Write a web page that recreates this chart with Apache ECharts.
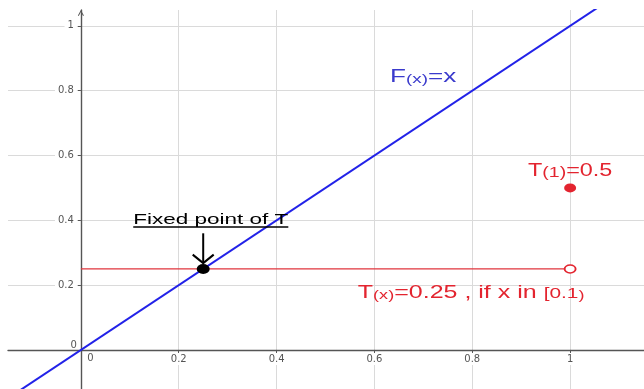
<!DOCTYPE html>
<html>
<head>
<meta charset="utf-8">
<script src="https://cdn.jsdelivr.net/npm/echarts@6/dist/echarts.min.js"></script>
<style>
html,body{margin:0;padding:0;background:#fff;}
#c{width:644px;height:389px;}
</style>
</head>
<body>
<div id="c"></div>
<script>
// ---- data ----
const xTicks = [0, 0.2, 0.4, 0.6, 0.8, 1];
const yTicks = [0, 0.2, 0.4, 0.6, 0.8, 1];
const lineF = [[-0.2, -0.2], [1.2, 1.2]];      // F(x)=x
const lineT = [[0, 0.25], [1, 0.25]];          // T(x)=0.25 on [0,1)
const fixedPoint = [[0.25, 0.25]];
const openEnd = [[1, 0.25]];
const pointT1 = [[1, 0.5]];
const arrowFrom = [0.25, 0.36];
const arrowTo = [0.25, 0.268];
const annoTexts = [
  '{m|F}{s|(x)}{m|=x}',
  '{m|T}{s|(1)}{m|=0.5}',
  '{m|T}{s|(x)}{m|=0.25 , if x in }{t|[0.1}{s|)}',
  '{m|Fixed point of T}'
];
const annoAnchors = [[0.632, 0.843], [0.914, 0.551], [0.566, 0.177], [0.107, 0.401]];

// ---- layout / styles ----
const GRID = {left: 8, top: 10, right: 0, bottom: 0};
const X_MIN = -0.149, X_MAX = 1.151, Y_MIN = -0.1204, Y_MAX = 1.049;
const W = 644, H = 389;
const plotW = W - GRID.left - GRID.right, plotH = H - GRID.top - GRID.bottom;
// place axes through the origin
const yAxisOffset = -((0 - X_MIN) / (X_MAX - X_MIN)) * plotW;
const xAxisOffset = -((0 - Y_MIN) / (Y_MAX - Y_MIN)) * plotH;

const FONT = '"Liberation Sans", Arial, sans-serif';
const BLUE = '#2222e8', BLUE_TXT = '#3a3acc', RED = '#e3242f', RED_LINE = '#e0343c';
const annoStyle = [
  {color: BLUE_TXT, sx: 1.45, m: 18, s: 13, t: 14},
  {color: RED, sx: 1.3, m: 18, s: 15, t: 14},
  {color: RED, sx: 1.39, m: 18, s: 13, t: 15},
  {color: '#000', sx: 1.5, m: 15, s: 12, t: 12, underline: true}
];

function measure(txt, font) {
  const c = document.createElement('canvas').getContext('2d');
  c.font = font;
  return c.measureText(txt).width;
}

const chart = echarts.init(document.getElementById('c'), null, {renderer: 'canvas'});

const labelCommon = {color: '#555', fontFamily: '"DejaVu Sans", sans-serif', fontSize: 10};

const option = {
  animation: false,
  backgroundColor: '#fff',
  grid: Object.assign({containLabel: false, outerBoundsMode: 'none'}, GRID),
  xAxis: {
    type: 'value', min: X_MIN, max: X_MAX, position: 'bottom', offset: xAxisOffset,
    axisLine: {onZero: false, lineStyle: {color: '#555', width: 1.4}},
    axisTick: {show: true, customValues: xTicks, length: 3, lineStyle: {color: '#555'}},
    axisLabel: Object.assign({
      customValues: xTicks, margin: 3,
      formatter: v => v === 0 ? '{z|0}' : '{n|' + v + '}',
      rich: {
        n: Object.assign({backgroundColor: '#fff', padding: [1, 3]}, labelCommon),
        z: Object.assign({padding: [0, 0, 0, 19]}, labelCommon)
      }
    }, labelCommon),
    splitLine: {show: true, lineStyle: {color: '#dadada', width: 1}}
  },
  yAxis: {
    type: 'value', min: Y_MIN, max: Y_MAX, position: 'left', offset: yAxisOffset,
    axisLine: {
      onZero: false, lineStyle: {color: '#555', width: 1.4},
      symbol: ['none', 'path://M0,9 L5,0 L10,9 L8.6,10 L5,3.2 L1.4,10 Z'],
      symbolSize: [9, 6], symbolOffset: [0, -3]
    },
    axisTick: {show: true, customValues: yTicks, length: 3, lineStyle: {color: '#555'}},
    axisLabel: Object.assign({
      customValues: yTicks, margin: 4,
      formatter: v => v === 0 ? '{z|0}' : '{n|' + v + '}',
      rich: {
        n: Object.assign({backgroundColor: '#fff', padding: [1, 3]}, labelCommon),
        z: Object.assign({padding: [0, 0, 9, 0]}, labelCommon)
      }
    }, labelCommon),
    splitLine: {show: true, lineStyle: {color: '#dadada', width: 1}}
  },
  series: [
    {type: 'line', data: lineF, symbol: 'none', lineStyle: {color: BLUE, width: 2}, z: 3},
    {type: 'line', data: lineT, symbol: 'none', lineStyle: {color: RED_LINE, width: 1.2}, z: 3},
    {type: 'scatter', data: openEnd, symbol: 'circle', symbolSize: [11, 8],
      itemStyle: {color: '#fff', borderColor: RED, borderWidth: 1.6, opacity: 1}, z: 4},
    {type: 'scatter', data: pointT1, symbol: 'circle', symbolSize: [12, 9],
      itemStyle: {color: RED, opacity: 1}, z: 4},
    {type: 'scatter', data: fixedPoint, symbol: 'circle', symbolSize: [13, 10],
      itemStyle: {color: '#000', opacity: 1}, z: 5},
    {
      type: 'custom', z: 6, clip: false, silent: true,
      data: [[arrowFrom[0], arrowFrom[1], arrowTo[0], arrowTo[1]]],
      renderItem: (params, api) => {
        const a = api.coord([api.value(0), api.value(1)]);
        const b = api.coord([api.value(2), api.value(3)]);
        const st = {stroke: '#000', lineWidth: 2, fill: null};
        return {type: 'group', children: [
          {type: 'line', shape: {x1: a[0], y1: a[1], x2: b[0], y2: b[1]}, style: st},
          {type: 'polyline', shape: {points: [[b[0] - 10.5, b[1] - 8.5], [b[0], b[1]], [b[0] + 10.5, b[1] - 8.5]]}, style: st}
        ]};
      }
    },
    {
      type: 'custom', z: 7, clip: false, silent: true,
      data: annoAnchors,
      renderItem: (params, api) => {
        const i = params.dataIndex;
        const p = api.coord([api.value(0), api.value(1)]);
        const S = annoStyle[i];
        const rich = {
          m: {fontSize: S.m, fontFamily: FONT, fill: S.color, verticalAlign: 'bottom'},
          s: {fontSize: S.s, fontFamily: FONT, fill: S.color, verticalAlign: 'bottom'},
          t: {fontSize: S.t, fontFamily: FONT, fill: S.color, verticalAlign: 'bottom'}
        };
        const children = [{
          type: 'text', x: p[0], y: p[1], scaleX: S.sx,
          style: {text: annoTexts[i], rich: rich, fill: S.color, fontSize: S.m, fontFamily: FONT,
            align: 'left', verticalAlign: 'middle'}
        }];
        if (S.underline) {
          const plain = annoTexts[i].replace(/\{\w+\|([^}]*)\}/g, '$1');
          const w = measure(plain, S.m + 'px ' + FONT) * S.sx;
          children.push({type: 'line', shape: {x1: p[0], y1: p[1] + 7, x2: p[0] + w, y2: p[1] + 7},
            style: {stroke: '#000', lineWidth: 1.3}});
        }
        return {type: 'group', children: children};
      }
    }
  ]
};
chart.setOption(option);
</script>
</body>
</html>
